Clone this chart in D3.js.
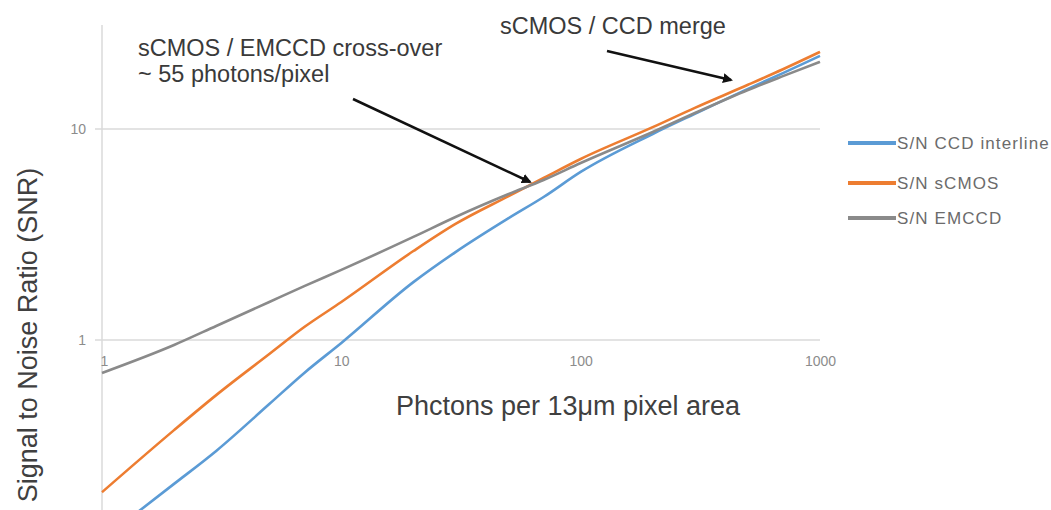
<!DOCTYPE html>
<html>
<head>
<meta charset="utf-8">
<script src="https://cdn.jsdelivr.net/npm/d3@7"></script>
<style>
  body { margin: 0; background: #fff; }
  svg { display: block; }
  .tick text { fill: #8c8c8c; font-family: "Liberation Sans", Arial, sans-serif; font-size: 14px; }
</style>
</head>
<body>
<svg id="chart" width="1051" height="510"></svg>
<script>
// photons per pixel (x) and S/N for each camera
var photons   = [1, 2, 3, 5, 7, 10, 20, 30, 50, 70, 100, 200, 300, 500, 700, 1000];
var snrCCD    = [0.113, 0.208, 0.298, 0.497, 0.698, 0.968, 1.88, 2.61, 3.78, 4.76, 6.26, 9.47, 11.8, 15.5, 18.4, 22.2];
var snrSCMOS  = [0.190, 0.374, 0.548, 0.858, 1.152, 1.514, 2.64, 3.55, 4.81, 5.86, 7.21, 10.2, 12.6, 16.2, 19.2, 23.2];
var snrEMCCD  = [0.698, 0.947, 1.165, 1.514, 1.80, 2.15, 3.08, 3.83, 4.92, 5.73, 6.90, 9.68, 11.9, 15.3, 17.8, 20.8];
var seriesNames = ["S/N CCD interline", "S/N sCMOS", "S/N EMCCD"];
var xTicks = [1, 10, 100, 1000];
var yTicks = [1, 10];

var colors = ["#5b9bd5", "#ed7d31", "#8a8a8a"];
var series = [snrCCD, snrSCMOS, snrEMCCD];

var svg = d3.select("#chart");

var x = d3.scaleLog().domain([1, 1000]).range([102, 820]);
var y = d3.scaleLog().domain([1, 10]).range([340, 129]);

// vertical axis line and horizontal gridline
svg.append("line")
  .attr("x1", x(1)).attr("x2", x(1))
  .attr("y1", 25).attr("y2", 510)
  .attr("stroke", "#dadada").attr("stroke-width", 1.5);

svg.selectAll(".grid")
  .data([10])
  .enter().append("line")
  .attr("class", "grid")
  .attr("x1", 95).attr("x2", x(1000))
  .attr("y1", function(d) { return y(d); })
  .attr("y2", function(d) { return y(d); })
  .attr("stroke", "#dadada").attr("stroke-width", 1.5);

// x axis crosses at SNR = 1
var xAxis = d3.axisBottom(x).tickValues(xTicks).tickSize(0).tickPadding(16)
  .tickFormat(d3.format("d"));
var gx = svg.append("g")
  .attr("transform", "translate(0," + y(1) + ")")
  .call(xAxis);
gx.select(".domain").remove();
gx.append("line")
  .attr("x1", 95).attr("x2", x(1000))
  .attr("stroke", "#dadada").attr("stroke-width", 1.5);
gx.select(".tick text").attr("text-anchor", "start").attr("dx", -2);

var yAxis = d3.axisLeft(y).tickValues(yTicks).tickSize(0).tickPadding(16)
  .tickFormat(d3.format("d"));
var gy = svg.append("g")
  .attr("transform", "translate(" + x(1) + ",0)")
  .call(yAxis);
gy.select(".domain").remove();

// series lines
var line = d3.line()
  .x(function(d, i) { return x(photons[i]); })
  .y(function(d) { return y(d); })
  .curve(d3.curveMonotoneX);

svg.selectAll(".series")
  .data(series)
  .enter().append("path")
  .attr("class", "series")
  .attr("d", line)
  .attr("fill", "none")
  .attr("stroke", function(d, i) { return colors[i]; })
  .attr("stroke-width", 2.6)
  .attr("stroke-linejoin", "round");

// axis titles
svg.append("text")
  .attr("x", 568).attr("y", 415)
  .attr("text-anchor", "middle")
  .style("font-family", "Liberation Sans, Arial, sans-serif")
  .style("font-size", "27px")
  .attr("fill", "#404040")
  .text("Phctons per 13\u03bcm pixel area");

svg.append("text")
  .attr("transform", "translate(37,335) rotate(-90)")
  .attr("text-anchor", "middle")
  .style("font-family", "Liberation Sans, Arial, sans-serif")
  .style("font-size", "27px")
  .attr("fill", "#404040")
  .text("Signal to Noise Ratio (SNR)");

// legend
var legend = svg.selectAll(".legend")
  .data(seriesNames)
  .enter().append("g")
  .attr("class", "legend")
  .attr("transform", function(d, i) { return "translate(848," + [143, 183, 218][i] + ")"; });
legend.append("line")
  .attr("x1", 0).attr("x2", 48)
  .attr("stroke", function(d, i) { return colors[i]; })
  .attr("stroke-width", 4);
legend.append("text")
  .attr("x", 49).attr("dy", "0.35em")
  .style("font-family", "Liberation Sans, sans-serif")
  .style("font-size", "17px")
  .style("letter-spacing", "1.1px")
  .attr("fill", "#6b6b6b")
  .text(function(d) { return d; });

// annotations with arrows
svg.append("defs").append("marker")
  .attr("id", "arrow")
  .attr("viewBox", "0 0 10 10")
  .attr("refX", 8).attr("refY", 5)
  .attr("markerWidth", 4).attr("markerHeight", 4)
  .attr("orient", "auto")
  .append("path")
  .attr("d", "M0,0L10,5L0,10z")
  .attr("fill", "#111");

var notes = [
  { lines: ["sCMOS / EMCCD cross-over", "~ 55 photons/pixel"], x: 138, y: 56 },
  { lines: ["sCMOS / CCD merge"], x: 500, y: 34 }
];
notes.forEach(function(n) {
  var t = svg.append("text")
    .attr("x", n.x).attr("y", n.y)
    .style("font-family", "Liberation Sans, Arial, sans-serif")
    .style("font-size", "23.5px")
    .attr("fill", "#3a3a3a");
  n.lines.forEach(function(s, i) {
    t.append("tspan").attr("x", n.x).attr("dy", i === 0 ? 0 : 26).text(s);
  });
});

var arrows = [[353, 99, 530, 182], [607, 51, 731, 80]];
svg.selectAll(".arrow")
  .data(arrows)
  .enter().append("line")
  .attr("class", "arrow")
  .attr("x1", function(d) { return d[0]; })
  .attr("y1", function(d) { return d[1]; })
  .attr("x2", function(d) { return d[2]; })
  .attr("y2", function(d) { return d[3]; })
  .attr("stroke", "#111")
  .attr("stroke-width", 2.5)
  .attr("marker-end", "url(#arrow)");
</script>
</body>
</html>
